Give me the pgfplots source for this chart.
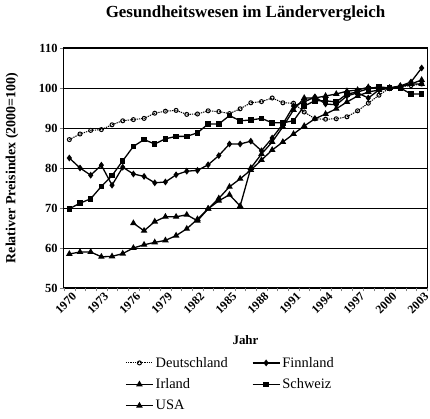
\documentclass[border=0pt]{standalone}
\usepackage{pgfplots}
\pgfplotsset{compat=1.18}
\usepackage{fontspec}
\setmainfont{Liberation Serif}
\begin{document}
\begin{tikzpicture}
\begin{axis}[
  scale only axis, width=363bp, height=240bp,
  xmin=1969.5, xmax=2003.5, ymin=50, ymax=110,
  /pgf/number format/assume math mode=true,
  /pgf/number format/1000 sep={},
  tick align=outside, tick pos=left,
  major tick length=0pt, minor tick length=3.5bp,
  ytick={50,60,...,110}, minor ytick={50,60,...,110},
  xtick={1970,1973,...,2003},
  minor xtick={1969.5,1970.5,...,2003.5},
  xticklabel style={rotate=45, anchor=north east, inner sep=1bp, yshift=-3bp, font=\bfseries\fontsize{12}{13}\selectfont},
  yticklabel style={xshift=-3bp, font=\bfseries\fontsize{12.5}{14}\selectfont},
  ymajorgrids, grid style={black, line width=0.8bp},
  axis line style={line width=1bp},
  title={Gesundheitswesen im Ländervergleich},
  title style={at={(axis description cs:0.5,1)}, anchor=base, yshift=25bp, font=\bfseries\fontsize{17}{20}\selectfont},
  xlabel={Jahr},
  xlabel style={at={(axis description cs:0.5,0)}, anchor=center, yshift=-52bp, font=\bfseries\fontsize{13}{15}\selectfont},
  ylabel={Relativer Preisindex (2000=100)},
  every axis y label/.style={at={(axis description cs:0,0.5)}, xshift=-52bp, rotate=90, anchor=center, font=\bfseries\fontsize{14}{16}\selectfont},
  legend columns=2,
  legend cell align=left,
  legend style={at={(axis description cs:0,0)}, anchor=north west, xshift=58bp, yshift=-65bp, draw=none, fill=none,
     font=\fontsize{14.5}{17}\selectfont, row sep=6bp, /tikz/every even column/.append style={column sep=22bp}},
  legend image code/.code={\draw[mark repeat=2,mark phase=2,#1] plot coordinates {(0cm,0cm) (0.48cm,0cm) (0.96cm,0cm)};},
  every axis plot/.append style={black, line width=1.3bp},
]
\addplot[densely dotted, line width=1bp, mark=o, mark size=2bp, mark options={solid, fill=white, line width=1bp}] coordinates {
(1970,87.1)(1971,88.5)(1972,89.4)(1973,89.6)(1974,90.8)(1975,91.8)(1976,92.1)(1977,92.4)(1978,93.7)(1979,94.2)
(1980,94.4)(1981,93.4)(1982,93.5)(1983,94.3)(1984,94.1)(1985,93.6)(1986,94.8)(1987,96.3)(1988,96.6)(1989,97.5)
(1990,96.3)(1991,96.2)(1992,94.0)(1993,92.3)(1994,92.2)(1995,92.3)(1996,92.8)(1997,94.3)(1998,96.2)(1999,98.2)
(2000,100.0)(2001,100.3)(2002,100.6)(2003,101.0)};
\addlegendentry{Deutschland}
\addplot[mark=diamond*, mark size=2.4bp] coordinates {
(1970,82.5)(1971,80.0)(1972,78.2)(1973,80.7)(1974,75.7)(1975,80.2)(1976,78.5)(1977,77.9)(1978,76.3)(1979,76.5)
(1980,78.3)(1981,79.2)(1982,79.4)(1983,80.8)(1984,83.1)(1985,86.0)(1986,86.0)(1987,86.7)(1988,84.3)(1989,87.5)
(1990,91.0)(1991,95.5)(1992,96.5)(1993,97.8)(1994,96.0)(1995,95.8)(1996,98.0)(1997,98.8)(1998,97.5)(1999,99.5)
(2000,100.0)(2001,100.5)(2002,101.5)(2003,105.0)};
\addlegendentry{Finnland}
\addplot[mark=triangle*, mark size=2.6bp] coordinates {
(1976,66.2)(1977,64.3)(1978,66.6)(1979,67.8)
(1980,67.8)(1981,68.3)(1982,66.8)(1983,69.8)(1984,71.8)(1985,73.3)(1986,70.5)(1987,80.0)(1988,83.5)(1989,86.5)
(1990,90.3)(1991,94.5)(1992,97.5)(1993,97.5)(1994,98.0)(1995,98.5)(1996,99.2)(1997,99.5)(1998,100.2)(1999,99.8)
(2000,100.0)(2001,100.3)(2002,101.0)(2003,102.0)};
\addlegendentry{Irland}
\addplot[mark=square*, mark size=2.1bp] coordinates {
(1970,69.8)(1971,71.2)(1972,72.3)(1973,75.4)(1974,78.1)(1975,81.8)(1976,85.4)(1977,87.1)(1978,86.0)(1979,87.3)
(1980,87.9)(1981,87.9)(1982,88.8)(1983,91.0)(1984,91.0)(1985,93.1)(1986,91.8)(1987,92.0)(1988,92.4)(1989,91.3)
(1990,91.3)(1991,91.8)(1992,95.5)(1993,96.8)(1994,96.8)(1995,96.5)(1996,98.5)(1997,99.0)(1998,99.8)(1999,100.3)
(2000,100.0)(2001,100.0)(2002,98.5)(2003,98.5)};
\addlegendentry{Schweiz}
\addplot[mark=triangle*, mark size=2.6bp] coordinates {
(1970,58.5)(1971,59.0)(1972,59.0)(1973,57.8)(1974,57.9)(1975,58.6)(1976,60.0)(1977,60.8)(1978,61.4)(1979,61.9)
(1980,63.1)(1981,64.8)(1982,67.2)(1983,69.8)(1984,72.4)(1985,75.3)(1986,77.3)(1987,79.5)(1988,82.0)(1989,84.5)
(1990,86.5)(1991,88.5)(1992,90.5)(1993,92.3)(1994,93.5)(1995,94.8)(1996,96.5)(1997,98.0)(1998,99.0)(1999,99.5)
(2000,100.0)(2001,100.5)(2002,101.0)(2003,101.0)};
\addlegendentry{USA}
\end{axis}
\pgfresetboundingbox
\path[use as bounding box] ([shift={(-64bp,-131bp)}]current axis.south west) rectangle ([shift={(3bp,48bp)}]current axis.north east);
\end{tikzpicture}
\end{document}
